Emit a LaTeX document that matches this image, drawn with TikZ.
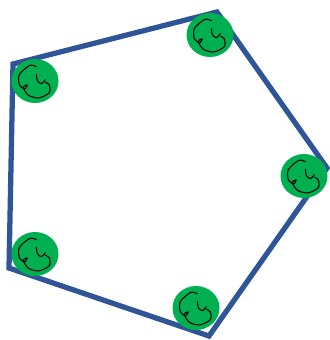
\documentclass[tikz,border=0pt]{standalone}
\usepackage{tikz}
\definecolor{edgeblue}{HTML}{2F5597}
\definecolor{blobgreen}{HTML}{00B050}

\newlength{\pxu}
\setlength{\pxu}{0.03cm}
\tikzset{
  blob/.style={ellipse,fill=blobgreen,minimum width=47\pxu,minimum height=44\pxu,inner sep=0pt},
  scribble/.style={draw=black,line width=0.9pt,line cap=round,line join=round}
}
\usetikzlibrary{shapes.geometric}
\newcommand{\scrib}[1]{%
\draw[scribble,shift={(#1.center)},scale=1.3] plot[smooth] coordinates {(1,-11) (-4,-12) (-12,-5) (-12,3) (-8,6) (-6,3) (-9,5) (-5,11) (3,13) (11,9) (11,3) (8,1)};
\draw[scribble,shift={(#1.center)},scale=1.3] plot[smooth] coordinates {(1,-5) (2,0) (5,2) (8,-1)};
}

\begin{document}
\begin{tikzpicture}[x=\pxu,y=-\pxu]
\useasboundingbox (0,0) rectangle (329,340);
% corners
\coordinate (top) at (217,12);
\coordinate (upleft) at (13,64);
\coordinate (lowleft) at (9,268);
\coordinate (bottom) at (209,336);
\coordinate (right) at (327,168);
\draw[edgeblue,line width=4.5pt,line join=miter] (top) -- (upleft) -- (lowleft) -- (bottom) -- (right) -- cycle;
% green blobs
\node[blob] (b1) at (210,35) {};
\node[blob] (b2) at (35,81) {};
\node[blob] (b3) at (304,176) {};
\node[blob] (b4) at (35,254) {};
\node[blob] (b5) at (196,308) {};
\foreach \b in {b1,b2,b3,b4,b5} {\scrib{\b}}
\end{tikzpicture}
\end{document}
